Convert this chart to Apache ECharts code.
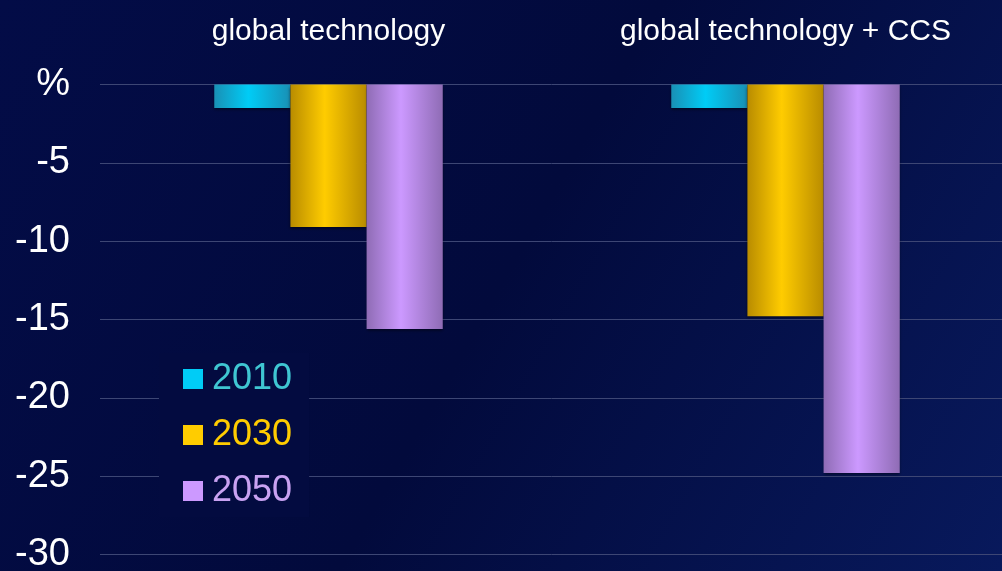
<!DOCTYPE html>
<html>
<head>
<meta charset="utf-8">
<script src="https://cdn.jsdelivr.net/npm/echarts@6/dist/echarts.min.js"></script>
<style>
  html, body { margin: 0; padding: 0; background: #030b42; }
  #chart { width: 1002px; height: 571px; }
</style>
</head>
<body>
<div id="chart"></div>
<script>
// data
const categories = ['global technology', 'global technology + CCS'];
const years = ['2010', '2030', '2050'];
const values2010 = [-1.5, -1.5];
const values2030 = [-9.1, -14.8];
const values2050 = [-15.6, -24.8];
const yTicks = { min: -30, max: 0, interval: 5 };

// colour sets: [edge, centre, text]
const palette = {
  '2010': ['#1990b5', '#00ccf6', '#3fc6d2'],
  '2030': ['#b98c00', '#ffcc00', '#ffcc00'],
  '2050': ['#8f6cb5', '#cc99ff', '#c9a2f2'],
};

const barFill = (year) => {
  const [edge, mid] = palette[year];
  return new echarts.graphic.LinearGradient(0, 0, 1, 0, [
    { offset: 0, color: edge },
    { offset: 0.45, color: mid },
    { offset: 1, color: edge },
  ]);
};

const makeSeries = (year, data) => ({
  name: year,
  type: 'bar',
  data: data,
  barGap: '0%',
  barCategoryGap: '50%',
  itemStyle: {
    color: barFill(year),
    shadowColor: 'rgba(0,0,0,0.5)',
    shadowBlur: 3,
    shadowOffsetY: 2,
  },
});

const chart = echarts.init(document.getElementById('chart'));
const option = {
  backgroundColor: new echarts.graphic.LinearGradient(0, 0, 1, 1, [
    { offset: 0, color: '#030c47' },
    { offset: 0.5, color: '#020a3c' },
    { offset: 1, color: '#08195c' },
  ]),
  animation: false,
  grid: {
    left: 100,
    top: 84.5,
    right: -12,
    bottom: 16.5,
    outerBoundsMode: 'none',
  },
  legend: {
    orient: 'vertical',
    left: 159,
    top: 353,
    padding: [8, 17, 8, 24],
    backgroundColor: '#030b40',
    itemWidth: 20,
    itemHeight: 20,
    itemGap: 20,
    icon: 'rect',
    data: years.map((y) => ({
      name: y,
      itemStyle: { color: palette[y][1] },
      textStyle: { color: palette[y][2] },
    })),
    textStyle: {
      fontSize: 36,
      fontFamily: '"Liberation Sans", Arial, sans-serif',
      padding: [0, 0, 0, 4],
    },
  },
  xAxis: {
    type: 'category',
    position: 'top',
    data: categories,
    axisLine: { show: false },
    axisTick: { show: false },
    axisLabel: {
      interval: 0,
      color: '#ffffff',
      fontSize: 30,
      fontFamily: '"Liberation Sans", Arial, sans-serif',
      margin: 38,
    },
  },
  yAxis: {
    type: 'value',
    min: yTicks.min,
    max: yTicks.max,
    interval: yTicks.interval,
    axisLine: { show: false },
    axisTick: { show: false },
    axisLabel: {
      color: '#ffffff',
      fontSize: 38,
      fontFamily: '"Liberation Sans", Arial, sans-serif',
      margin: 30,
      formatter: (v) => (v === 0 ? '%' : String(v)),
    },
    splitLine: {
      lineStyle: { color: '#3d4674', width: 1 },
    },
  },
  series: [
    makeSeries('2010', values2010),
    makeSeries('2030', values2030),
    makeSeries('2050', values2050),
  ],
};
chart.setOption(option);
</script>
</body>
</html>
